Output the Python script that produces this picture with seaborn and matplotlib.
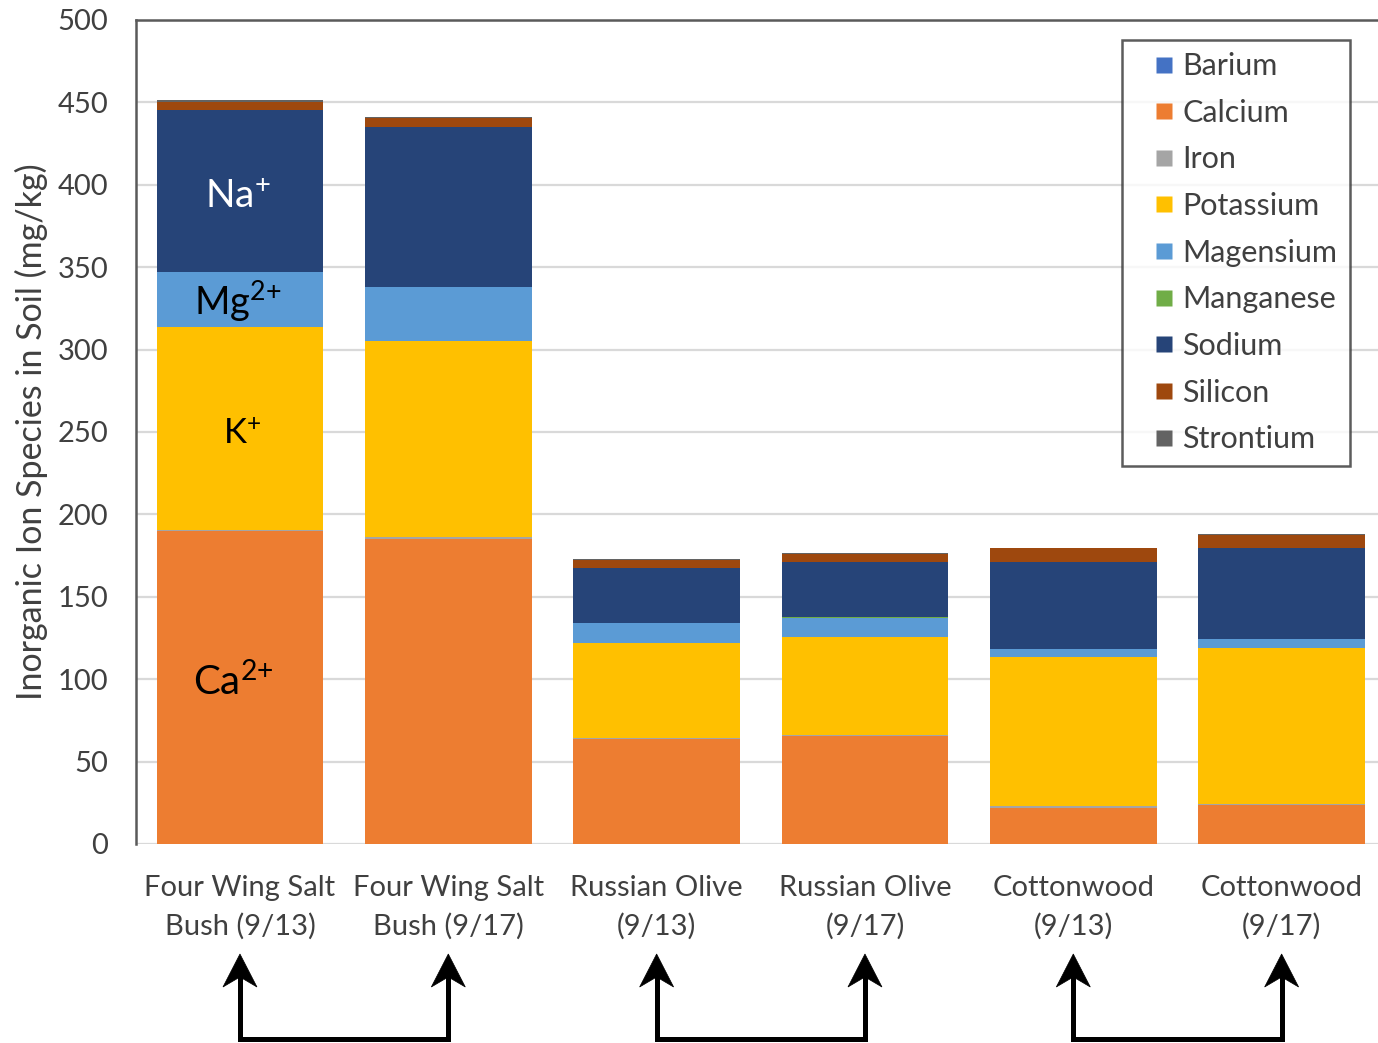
import matplotlib
matplotlib.use("Agg")
import matplotlib.pyplot as plt
from matplotlib.patches import Polygon
from matplotlib.lines import Line2D
import numpy as np
import pandas as pd
import seaborn as sns

# Sampling sites / dates
categories = ["Four Wing Salt\nBush (9/13)", "Four Wing Salt\nBush (9/17)",
              "Russian Olive\n(9/13)", "Russian Olive\n(9/17)",
              "Cottonwood\n(9/13)", "Cottonwood\n(9/17)"]

# Ion concentrations (mg/kg), stacked bottom to top in this order
barium    = [0.1, 0.1, 0.1, 0.1, 0.1, 0.1]
calcium   = [190.0, 185.0, 63.5, 65.5, 22.0, 23.5]
iron      = [0.4, 1.0, 1.0, 0.8, 1.2, 0.8]
potassium = [123.5, 119.0, 57.5, 59.0, 90.0, 94.5]
magensium = [33.0, 33.0, 12.0, 12.0, 5.0, 5.5]
manganese = [0.1, 0.1, 0.1, 0.1, 0.1, 0.1]
sodium    = [98.0, 97.0, 33.0, 33.5, 53.0, 55.0]
silicon   = [5.0, 5.5, 5.0, 5.0, 8.0, 8.0]
strontium = [1.5, 0.5, 0.5, 0.5, 0.5, 0.5]

series_names = ["Barium", "Calcium", "Iron", "Potassium", "Magensium",
                "Manganese", "Sodium", "Silicon", "Strontium"]
series_values = [barium, calcium, iron, potassium, magensium,
                 manganese, sodium, silicon, strontium]
series_colors = ["#4472C4", "#ED7D31", "#A5A5A5", "#FFC000", "#5B9BD5",
                 "#70AD47", "#264478", "#9E480E", "#636363"]

# Pairs of sampling dates linked by brackets under the axis
pairs = [(0, 1), (2, 3), (4, 5)]

sns.set_theme(style="white")
plt.rcParams["font.family"] = ["Lato", "DejaVu Sans"]
plt.rcParams["mathtext.default"] = "regular"

text_color = "#404040"
W, H = 1378, 1043
fig = plt.figure(figsize=(W / 100, H / 100), dpi=100)
ax = fig.add_axes([135.8 / W, (H - 844) / H, 1250 / W, 824 / H])

df = pd.DataFrame({name: vals for name, vals in zip(series_names, series_values)})
df["site"] = categories
cum = df[series_names].cumsum(axis=1)

# stacked bars: draw cumulative totals from the top layer down
for name, color in reversed(list(zip(series_names, series_colors))):
    sns.barplot(x=df["site"], y=cum[name], color=color, width=0.8,
                saturation=1, ax=ax, order=categories, linewidth=0,
                zorder=3)

ax.set_ylim(0, 500)
ax.set_xlim(-0.5, 5.5)
ax.set_yticks(np.arange(0, 501, 50))
ax.yaxis.grid(True, color="#D9D9D9", linewidth=1.6, zorder=0)
ax.set_axisbelow(True)
ax.tick_params(axis="both", length=0, labelsize=21, labelcolor=text_color)
ax.tick_params(axis="y", pad=20)
ax.tick_params(axis="x", pad=22)
for lbl in ax.get_xticklabels():
    lbl.set_linespacing(1.55)
ax.set_xlabel("")
ax.set_ylabel("Inorganic Ion Species in Soil (mg/kg)", fontsize=24.5,
              color=text_color, labelpad=7)

for side in ["bottom", "right"]:
    ax.spines[side].set_visible(False)
for side in ["left", "top"]:
    ax.spines[side].set_color("#5a5a5a")
    ax.spines[side].set_linewidth(1.8)

# ion labels on the first bar
ax.text(-0.03, 90.4, "Ca$^{2{+}}$", ha="center", va="baseline", fontsize=29, color="black", zorder=5)
ax.text(0.01, 243, "K$^{+}$", ha="center", va="baseline", fontsize=25, color="black", zorder=5)
ax.text(-0.01, 321, "Mg$^{2{+}}$", ha="center", va="baseline", fontsize=27.5, color="black", zorder=5)
ax.text(-0.01, 386, "Na$^{+}$", ha="center", va="baseline", fontsize=28, color="white", zorder=5)

# legend with square markers
handles = [Line2D([], [], linestyle="none", marker="s", markersize=11.5,
                  markerfacecolor=c, markeredgecolor="none", label=n)
           for n, c in zip(series_names, series_colors)]
leg = ax.legend(handles=handles, loc="upper left",
                bbox_to_anchor=((1122 - 135.8) / 1250, 1 - 20 / 824),
                bbox_transform=ax.transAxes, fontsize=22, frameon=True,
                fancybox=False, handlelength=1.95, handletextpad=-0.37,
                labelspacing=0.61, borderpad=0.4, borderaxespad=0,
                labelcolor=text_color)
leg.get_frame().set_edgecolor("#333333")
leg.get_frame().set_linewidth(1.8)
leg.set_zorder(6)

# brackets with upward arrows linking paired dates (figure pixel coordinates)
tip_y = H - 954
base_y = H - 1039
head_len, head_half, notch = 33, 17, 23
shaft_lw = 3.6
for i, j in pairs:
    xs = [ax.transData.transform((k, 0))[0] for k in (i, j)]
    path_x = [xs[0], xs[0], xs[1], xs[1]]
    path_y = [tip_y - notch + 2, base_y, base_y, tip_y - notch + 2]
    fig.add_artist(Line2D(path_x, path_y, transform=None, color="black",
                          lw=shaft_lw, solid_joinstyle="miter",
                          solid_capstyle="butt"))
    for px in xs:
        head = Polygon([(px, tip_y), (px - head_half, tip_y - head_len),
                        (px, tip_y - notch), (px + head_half, tip_y - head_len)],
                       closed=True, transform=None, facecolor="black",
                       edgecolor="black", lw=0.5)
        fig.add_artist(head)

fig.savefig("out.png", dpi=100)
